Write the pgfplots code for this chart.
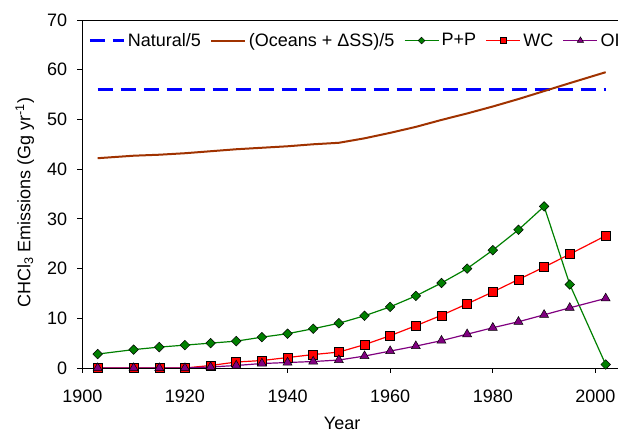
\documentclass[border=0pt]{standalone}
\usepackage{fontspec}
\setmainfont{Liberation Sans}
\usepackage{pgfplots}
\pgfplotsset{compat=1.18}

\definecolor{natblue}{RGB}{0,0,255}
\definecolor{ocbrown}{RGB}{160,50,0}
\definecolor{ppgreen}{RGB}{0,128,0}
\definecolor{wcred}{RGB}{255,0,0}
\definecolor{oipurple}{RGB}{128,0,128}

\begin{document}
\begin{tikzpicture}[x=1bp,y=1bp]
\begin{axis}[
  scale only axis,
  width=535.7bp, height=348bp,
  xmin=1900, xmax=2004.4,
  ymin=0, ymax=70,
  xtick={1900,1920,1940,1960,1980,2000},
  ytick={0,10,20,30,40,50,60,70},
  axis x line=box, axis y line=left,
  axis line style={-, line width=0.8bp},
  xtick pos=bottom,
  tick align=outside,
  major tick length=5bp,
  tick style={black, line width=0.8bp},
  x tick label style={/pgf/number format/1000 sep={}},
  /pgf/number format/assume math mode=true,
  ticklabel style={font=\fontsize{18bp}{21bp}\selectfont, inner sep=0pt},
  xticklabel style={yshift=-17bp},
  yticklabel style={xshift=-10bp},
  label style={font=\fontsize{18bp}{21bp}\selectfont},
  xlabel={Year},
  ylabel={CHCl\textsubscript{3} Emissions (Gg yr\textsuperscript{-1})},
  xlabel style={at={(rel axis cs:0.485,-0.178)}, anchor=base},
  ylabel style={at={(rel axis cs:-0.097,0.475)}, anchor=base, rotate=0},
  legend columns=-1,
  legend style={at={(rel axis cs:0,0.941)}, anchor=west, xshift=6bp,
    draw=none, fill=none, inner sep=0pt, outer sep=0pt,
    font=\fontsize{18bp}{21bp}\selectfont,
    nodes={inner sep=2.5bp},
    /tikz/every even column/.append style={column sep=7bp}},
  legend cell align=left,
  legend image code/.code={\draw[mark repeat=2,mark phase=2,#1,every mark/.append style={scale=0.7}] plot coordinates {(0bp,0bp)(17bp,0bp)(34bp,0bp)};},
  every axis plot/.append style={line width=1.2bp},
]
\coordinate (bl) at (rel axis cs:0,0);
\coordinate (tr) at (rel axis cs:1,1);

\addplot[natblue, line width=3bp, dash pattern=on 15bp off 8bp, mark=none]
  coordinates {(1903,56) (2002,56)};
\addlegendentry{Natural/5}

\addplot[ocbrown, line width=2bp, mark=none] coordinates {
(1903,42.2) (1910,42.7) (1915,42.9) (1920,43.2) (1925,43.6) (1930,44.0)
(1935,44.3) (1940,44.6) (1945,45.0) (1950,45.3) (1955,46.2) (1960,47.3)
(1965,48.5) (1970,49.9) (1975,51.2) (1980,52.6) (1985,54.1) (1990,55.7)
(1995,57.3) (2002,59.5)};
\addlegendentry{(Oceans + ΔSS)/5}

\addplot[ppgreen, mark=square*, mark size=3.4bp,
  mark options={fill=ppgreen, draw=black, line width=0.5bp, rotate=45}] coordinates {
(1903,2.8) (1910,3.7) (1915,4.2) (1920,4.6) (1925,5.0) (1930,5.4)
(1935,6.2) (1940,6.9) (1945,7.9) (1950,9.0) (1955,10.5) (1960,12.3)
(1965,14.5) (1970,17.1) (1975,20.0) (1980,23.7) (1985,27.8) (1990,32.5)
(1995,16.8) (2002,0.7)};
\addlegendentry{P+P}

\addplot[wcred, mark=square*, mark size=4.5bp,
  mark options={fill=wcred, draw=black, line width=0.5bp}] coordinates {
(1903,0) (1910,0) (1915,0) (1920,0) (1925,0.5) (1930,1.2)
(1935,1.5) (1940,2.1) (1945,2.7) (1950,3.2) (1955,4.7) (1960,6.5)
(1965,8.5) (1970,10.6) (1975,12.9) (1980,15.3) (1985,17.8) (1990,20.3)
(1995,22.9) (2002,26.6)};
\addlegendentry{WC}

\addplot[oipurple, mark=triangle*, mark size=5.2bp,
  mark options={fill=oipurple, draw=black, line width=0.5bp}] coordinates {
(1903,0) (1910,0) (1915,0) (1920,0) (1925,0.2) (1930,0.5)
(1935,0.9) (1940,1.1) (1945,1.3) (1950,1.6) (1955,2.4) (1960,3.4)
(1965,4.4) (1970,5.5) (1975,6.8) (1980,8.1) (1985,9.3) (1990,10.7)
(1995,12.1) (2002,14.0)};
\addlegendentry{OI}
\end{axis}
\pgfresetboundingbox
\path ([shift={(-82.3bp,-65bp)}]bl) rectangle ([shift={(0bp,20bp)}]tr);
\end{tikzpicture}
\end{document}
